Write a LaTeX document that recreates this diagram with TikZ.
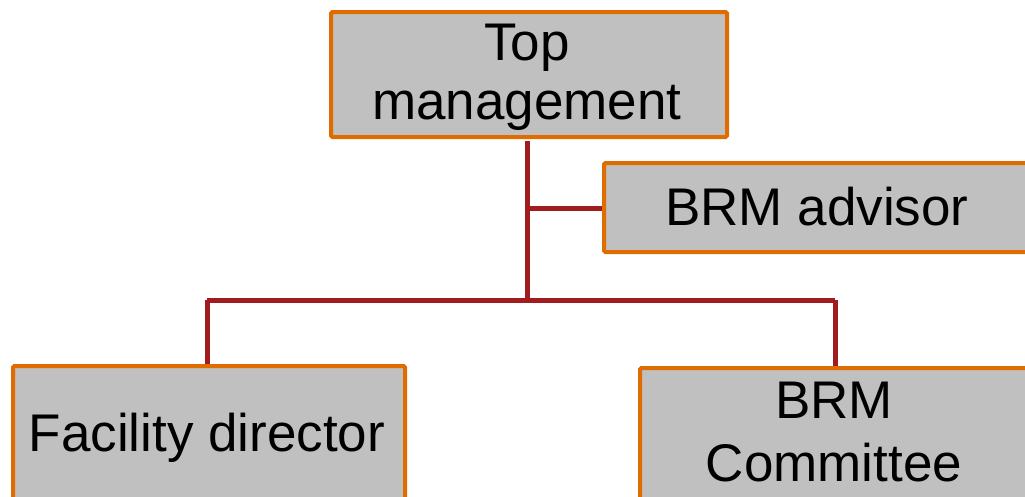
\documentclass[tikz,border=0pt]{standalone}
\usepackage{fontspec}
\setmainfont{Liberation Sans}
\definecolor{boxfill}{HTML}{C0C0C0}
\definecolor{boxline}{HTML}{E06C00}
\definecolor{conn}{HTML}{A01C1E}
\begin{document}
\begin{tikzpicture}[x=1pt,y=-1pt,
  box/.style={draw=boxline,fill=boxfill,line width=4pt,rounded corners=1.5pt,inner sep=0pt,anchor=north west},
  lbl/.style={inner sep=0pt,font=\fontsize{53}{60}\selectfont,align=center,text=black},
  link/.style={draw=conn,line width=5pt}]
\useasboundingbox (0,0) rectangle (1025,496);
\clip (0,0) rectangle (1025,496);
\node[box,minimum width=396pt,minimum height=125pt] (top) at (329,10) {};
\node[box,minimum width=460pt,minimum height=89pt] (adv) at (602,161) {};
\node[box,minimum width=392pt,minimum height=180pt] (fac) at (11,364) {};
\node[box,minimum width=430pt,minimum height=180pt] (com) at (638,366) {};
\node[lbl,anchor=base] (tt1) at (527,60) {Top};
\node[lbl,anchor=base] (tt2) at (527,119) {management};
\node[lbl,anchor=base] (at) at (817,225) {BRM advisor};
\node[lbl,anchor=base] (ft) at (207,451) {Facility director};
\node[lbl,anchor=base] (ct1) at (834,418) {BRM};
\node[lbl,anchor=base] (ct2) at (834,481) {Committee};
\coordinate (hub) at (527,300);
\coordinate (lft) at (207,300);
\coordinate (rgt) at (835,300);
\draw[link] (top.south -| hub) ++(0,2) -- (hub);
\draw[link] (527,208) -- (adv.west |- 0,208);
\draw[link] (lft) -- (rgt);
\draw[link] (lft) -- (lft |- fac.north);
\draw[link] (rgt) -- (rgt |- com.north);
\end{tikzpicture}
\end{document}
